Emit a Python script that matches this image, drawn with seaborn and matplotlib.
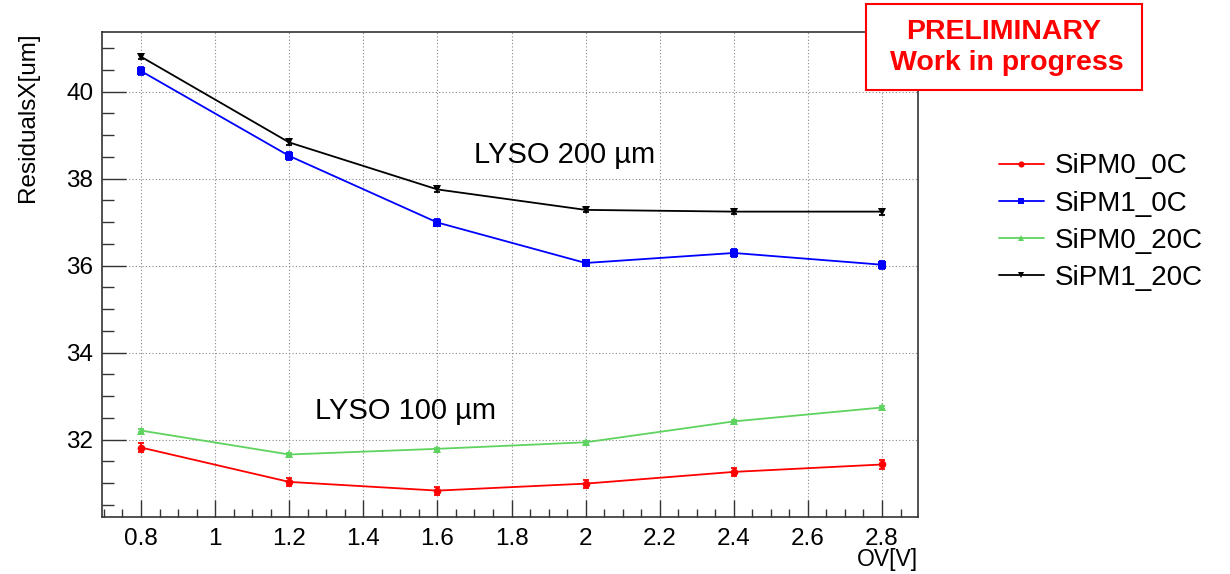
import numpy as np
import pandas as pd
import matplotlib
matplotlib.use("Agg")
import matplotlib.pyplot as plt
from matplotlib.patches import Rectangle
import seaborn as sns

ov = [0.8, 1.2, 1.6, 2.0, 2.4, 2.8]
series_names = ["SiPM0_0C", "SiPM1_0C", "SiPM0_20C", "SiPM1_20C"]
sipm0_0c = [31.82, 31.03, 30.83, 30.99, 31.26, 31.43]
sipm1_0c = [40.47, 38.52, 36.99, 36.06, 36.29, 36.02]
sipm0_20c = [32.21, 31.66, 31.79, 31.94, 32.42, 32.74]
sipm1_20c = [40.80, 38.83, 37.75, 37.28, 37.24, 37.24]
err0_0c = [0.10, 0.10, 0.09, 0.09, 0.09, 0.10]
err1_0c = [0.10, 0.10, 0.09, 0.08, 0.09, 0.09]
err0_20c = [0.03, 0.03, 0.03, 0.03, 0.03, 0.03]
err1_20c = [0.06, 0.07, 0.06, 0.06, 0.06, 0.07]

values = [sipm0_0c, sipm1_0c, sipm0_20c, sipm1_20c]
errors = [err0_0c, err1_0c, err0_20c, err1_20c]

df = pd.DataFrame({
    "OV": np.tile(ov, 4),
    "res": np.concatenate(values),
    "err": np.concatenate(errors),
    "series": np.repeat(series_names, len(ov)),
})

colors = {"SiPM0_0C": "#ff0000", "SiPM1_0C": "#0000ff",
          "SiPM0_20C": "#5fd35f", "SiPM1_20C": "#000000"}
markers = {"SiPM0_0C": "o", "SiPM1_0C": "s", "SiPM0_20C": "^", "SiPM1_20C": "v"}

sns.set_theme(style="ticks")
plt.rcParams["font.family"] = ["Liberation Sans", "DejaVu Sans"]
plt.rcParams["text.color"] = "black"
plt.rcParams["axes.labelcolor"] = "black"

fig = plt.figure(figsize=(12.3, 5.74), dpi=100)
ax = fig.add_axes([0.0827, 0.0998, 0.6636, 0.8439])

ax.grid(True, which="major", linestyle=(0, (1, 2)), color="#888888", linewidth=0.8)
ax.set_axisbelow(True)

sns.lineplot(data=df, x="OV", y="res", hue="series", style="series",
             hue_order=series_names, style_order=series_names,
             palette=colors, markers=markers, dashes=False,
             markersize=5.5, linewidth=1.3, markeredgewidth=0,
             ax=ax, legend=True, zorder=3)

for name in series_names:
    sub = df[df["series"] == name]
    ax.errorbar(sub["OV"], sub["res"], yerr=sub["err"], fmt="none",
                ecolor=colors[name], elinewidth=1.3, capsize=2, capthick=1.3, zorder=3)

ax.set_xlim(0.694, 2.897)
ax.set_ylim(30.23, 41.36)
ax.set_xticks([0.8, 1.0, 1.2, 1.4, 1.6, 1.8, 2.0, 2.2, 2.4, 2.6, 2.8])
ax.set_xticklabels(["0.8", "1", "1.2", "1.4", "1.6", "1.8", "2", "2.2", "2.4", "2.6", "2.8"])
ax.set_yticks([32, 34, 36, 38, 40])
ax.set_xticks(np.arange(0.70, 2.90, 0.05), minor=True)
ax.set_yticks(np.arange(30.5, 41.4, 0.5), minor=True)
ax.tick_params(axis="both", which="major", direction="in", width=1,
               labelsize=17.5, colors="#333333", labelcolor="black")
ax.tick_params(axis="x", which="major", length=12, pad=8)
ax.tick_params(axis="y", which="major", length=17, pad=6)
ax.tick_params(axis="x", which="minor", direction="in", length=6, width=1, colors="#333333")
ax.tick_params(axis="y", which="minor", direction="in", length=8.5, width=1, colors="#333333")
for s in ax.spines.values():
    s.set_color("#333333")
    s.set_linewidth(1.2)

ax.set_xlabel("")
ax.set_ylabel("")
fig.text(0.7463, 0.026, "OV[V]", ha="right", va="center", fontsize=16.5)
fig.text(0.0228, 0.944, "ResidualsX[um]", ha="center", va="top", rotation=90, fontsize=17.5)

ax.text(1.70, 38.53, "LYSO 200 µm", fontsize=21, ha="left", va="center")
ax.text(1.27, 32.67, "LYSO 100 µm", fontsize=21, ha="left", va="center")

fig.patches.append(Rectangle((866 / 1230, 1 - 90 / 574), 276 / 1230, 86 / 574,
                             transform=fig.transFigure, facecolor="white",
                             edgecolor="#ff0000", linewidth=1.5, zorder=5))
fig.text(1004 / 1230, 1 - 32 / 574, "PRELIMINARY", color="#ff0000", fontsize=20.5,
         fontweight="bold", ha="center", va="center", zorder=6)
fig.text(1007 / 1230, 1 - 63 / 574, "Work in progress", color="#ff0000", fontsize=20.5,
         fontweight="bold", ha="center", va="center", zorder=6)

handles, labels = ax.get_legend_handles_labels()
ax.legend(handles, labels, loc="center left", bbox_to_anchor=(0.792, 0.613),
          bbox_transform=fig.transFigure, frameon=False, fontsize=20,
          handlelength=1.6, handletextpad=0.4, labelspacing=0.4, markerscale=0.8)

fig.savefig("out.png", dpi=100)
